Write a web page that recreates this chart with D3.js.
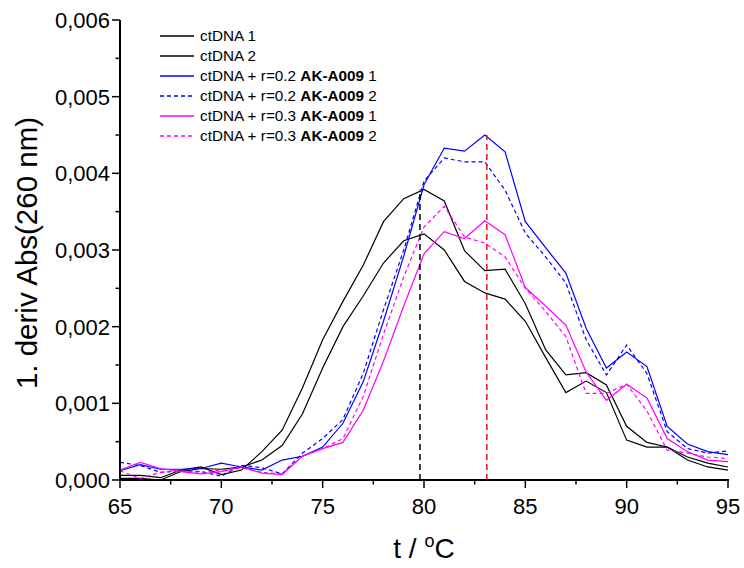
<!DOCTYPE html>
<html>
<head>
<meta charset="utf-8">
<script src="https://cdn.jsdelivr.net/npm/d3@7"></script>
<style>
  body { margin: 0; background: #fff; }
  svg { display: block; font-family: Arial, "Liberation Sans", sans-serif; }
</style>
</head>
<body>
<svg id="chart" width="744" height="568"></svg>
<script>
// ---- data (values in units of 1e-3 Abs/°C) ----
const temps = d3.range(65, 96); // 65..95 °C

const ctDNA1 = [0.06,0.06,0.03,0.13,0.17,0.07,0.13,0.37,0.65,1.20,1.83,2.33,2.80,3.37,3.67,3.79,3.64,2.99,2.73,2.75,2.30,1.70,1.37,1.40,1.24,0.70,0.49,0.43,0.30,0.22,0.17];
const ctDNA2 = [0.02,0.02,0.00,0.11,0.15,0.14,0.17,0.26,0.45,0.86,1.46,2.00,2.40,2.83,3.12,3.21,3.00,2.59,2.44,2.36,2.07,1.60,1.14,1.29,1.14,0.52,0.43,0.43,0.26,0.17,0.13];
const r02_1 = [0.12,0.20,0.14,0.14,0.15,0.22,0.17,0.13,0.26,0.31,0.43,0.74,1.28,2.07,2.92,3.85,4.33,4.29,4.50,4.28,3.37,3.03,2.70,1.98,1.46,1.67,1.48,0.70,0.47,0.37,0.33];
const r02_2 = [0.23,0.19,0.10,0.12,0.11,0.05,0.19,0.16,0.08,0.35,0.54,0.79,1.39,2.22,3.00,3.90,4.20,4.15,4.15,3.78,3.22,2.91,2.57,1.83,1.37,1.76,1.39,0.63,0.41,0.35,0.38];
const r03_1 = [0.13,0.23,0.15,0.11,0.08,0.11,0.17,0.09,0.07,0.31,0.41,0.49,0.91,1.55,2.27,2.95,3.24,3.15,3.38,3.20,2.51,2.27,2.02,1.41,1.04,1.25,1.07,0.54,0.37,0.26,0.24];
const r03_2 = [0.12,0.02,0.10,0.12,0.10,0.13,0.16,0.10,0.08,0.31,0.41,0.54,1.09,1.90,2.65,3.30,3.57,3.17,3.09,2.91,2.50,2.20,1.87,1.13,1.13,1.25,0.90,0.39,0.35,0.30,0.28];
const valueScale = 1e-3;

const seriesNames = ["ctDNA 1", "ctDNA 2", "ctDNA + r=0.2 |AK-A009| 1", "ctDNA + r=0.2 |AK-A009| 2", "ctDNA + r=0.3 |AK-A009| 1", "ctDNA + r=0.3 |AK-A009| 2"];
const seriesValues = [ctDNA1, ctDNA2, r02_1, r02_2, r03_1, r03_2];
const seriesColors = ["#000000", "#000000", "#0000ff", "#0000ff", "#ff00ff", "#ff00ff"];
const seriesDashed = [false, false, false, true, false, true];

// Tm marker lines (temperature, height)
const markerTemps = [79.8, 83.1];
const markerHeights = [3.79e-3, 4.50e-3];
const markerColors = ["#000000", "#ee1111"];

const xTicks = [65, 70, 75, 80, 85, 90, 95];
const yTicks = [0, 0.001, 0.002, 0.003, 0.004, 0.005, 0.006];
const xTitle = "t / ";
const yTitle = "1. deriv Abs(260 nm)";

// ---- layout ----
const svg = d3.select("#chart");
const pLeft = 120, pRight = 728, pTop = 20, pBottom = 480;

const x = d3.scaleLinear().domain([65, 95]).range([pLeft, pRight]);
const y = d3.scaleLinear().domain([0, 0.006]).range([pBottom, pTop]);

// curves
const line = d3.line().x(d => x(d[0])).y(d => y(d[1]));
seriesValues.forEach((vals, i) => {
  const pts = temps.map((t, j) => [t, vals[j] * valueScale]);
  svg.append("path")
    .datum(pts)
    .attr("d", line)
    .attr("fill", "none")
    .attr("stroke", seriesColors[i])
    .attr("stroke-width", 1.2)
    .attr("stroke-dasharray", seriesDashed[i] ? "4,3" : null);
});

// marker lines
markerTemps.forEach((t, i) => {
  svg.append("line")
    .attr("x1", x(t)).attr("x2", x(t))
    .attr("y1", y(0)).attr("y2", y(markerHeights[i]))
    .attr("stroke", markerColors[i])
    .attr("stroke-width", 1.5)
    .attr("stroke-dasharray", "6,4");
});

// axes
const fmt = v => d3.format(".3f")(v).replace(".", ",");
const yMinor = d3.range(0.0005, 0.006, 0.001);
const xMinor = d3.range(67.5, 95, 5);

const gx = svg.append("g");
gx.append("line").attr("x1", pLeft - 1).attr("x2", pRight + 1).attr("y1", pBottom).attr("y2", pBottom)
  .attr("stroke", "#000").attr("stroke-width", 2);
xTicks.forEach(t => {
  gx.append("line").attr("x1", x(t)).attr("x2", x(t)).attr("y1", pBottom).attr("y2", pBottom + 8)
    .attr("stroke", "#000").attr("stroke-width", 1.5);
  gx.append("text").attr("x", x(t)).attr("y", pBottom + 34).attr("text-anchor", "middle")
    .attr("font-size", 22).text(t);
});
xMinor.forEach(t => {
  gx.append("line").attr("x1", x(t)).attr("x2", x(t)).attr("y1", pBottom).attr("y2", pBottom + 4.5)
    .attr("stroke", "#000").attr("stroke-width", 1.5);
});

const gy = svg.append("g");
gy.append("line").attr("x1", pLeft).attr("x2", pLeft).attr("y1", pTop).attr("y2", pBottom + 1)
  .attr("stroke", "#000").attr("stroke-width", 2);
yTicks.forEach(v => {
  gy.append("line").attr("x1", pLeft - 8).attr("x2", pLeft).attr("y1", y(v)).attr("y2", y(v))
    .attr("stroke", "#000").attr("stroke-width", 1.5);
  gy.append("text").attr("x", pLeft - 10).attr("y", y(v) + 8).attr("text-anchor", "end")
    .attr("font-size", 22).text(fmt(v));
});
yMinor.forEach(v => {
  gy.append("line").attr("x1", pLeft - 4.5).attr("x2", pLeft).attr("y1", y(v)).attr("y2", y(v))
    .attr("stroke", "#000").attr("stroke-width", 1.5);
});

// axis titles
svg.append("text")
  .attr("transform", `translate(37,${(pTop + pBottom) / 2 + 3}) rotate(-90)`)
  .attr("text-anchor", "middle").attr("font-size", 29.5).text(yTitle);

const xt = svg.append("text").attr("x", (pLeft + pRight) / 2).attr("y", 558)
  .attr("text-anchor", "middle").attr("font-size", 28);
xt.append("tspan").text(xTitle);
xt.append("tspan").attr("font-size", 18).attr("dy", -11).text("o");
xt.append("tspan").attr("dy", 11).text("C");

// legend
const legY0 = 36, legDy = 20;
seriesNames.forEach((name, i) => {
  const ly = legY0 + i * legDy;
  svg.append("line").attr("x1", 160).attr("x2", 194).attr("y1", ly).attr("y2", ly)
    .attr("stroke", seriesColors[i]).attr("stroke-width", 1.3)
    .attr("stroke-dasharray", seriesDashed[i] ? "4,3" : null);
  const t = svg.append("text").attr("x", 200).attr("y", ly + 5).attr("font-size", 15.3);
  name.split("|").forEach((part, k) => {
    t.append("tspan").attr("font-weight", k === 1 ? "bold" : null).text(part);
  });
});
</script>
</body>
</html>
